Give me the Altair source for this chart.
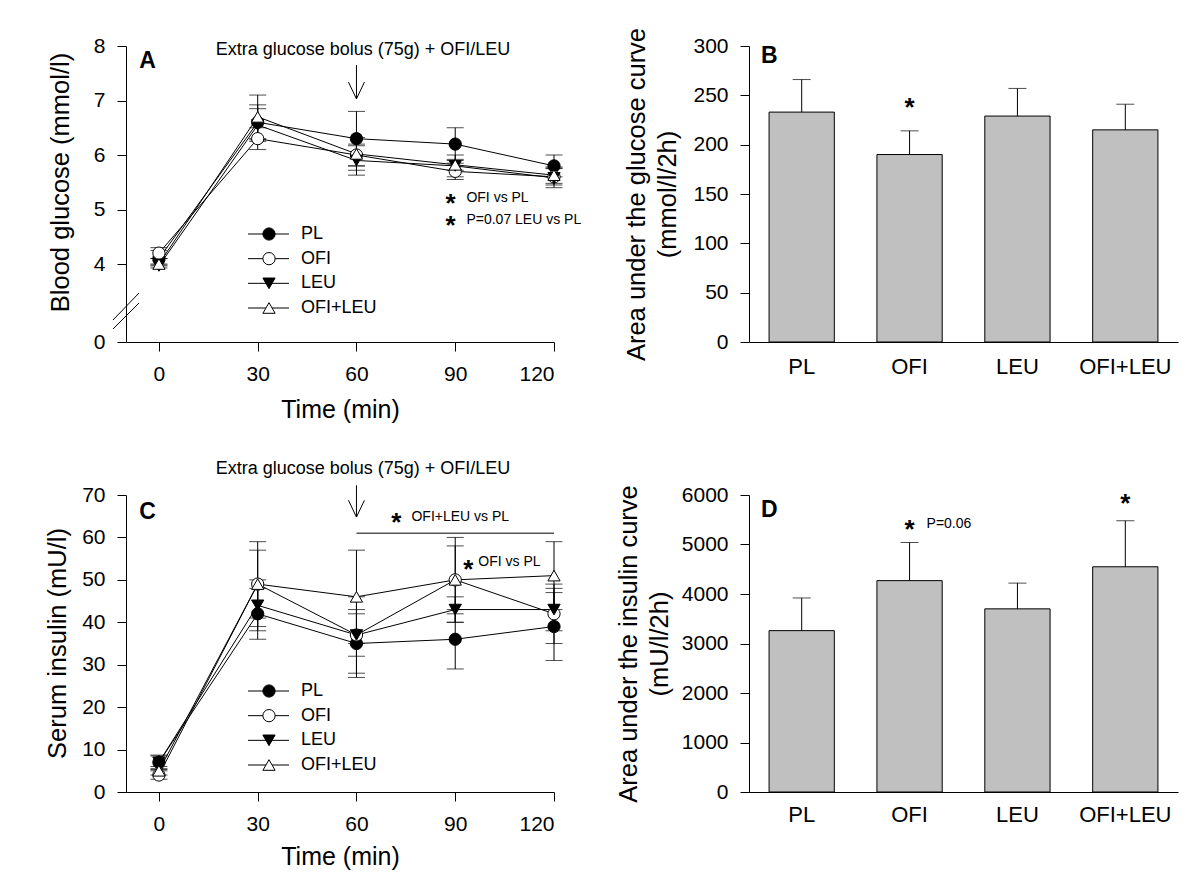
import altair as alt
import pandas as pd

FONT = "Liberation Sans"

times = [0, 30, 60, 90, 120]
series = ["PL", "OFI", "LEU", "OFI+LEU"]
shapes = ["circle", "circle", "triangle-down", "triangle-up"]
fills = ["black", "white", "black", "white"]

# Panel A: blood glucose (mmol/l), mean and error
glu_pl = [4.1, 6.6, 6.3, 6.2, 5.8]
glu_ofi = [4.2, 6.3, 6.0, 5.7, 5.6]
glu_leu = [3.9, 6.55, 5.9, 5.8, 5.58]
glu_ofileu = [4.0, 6.7, 6.02, 5.82, 5.63]
glu_pl_err = [0.15, 0.32, 0.5, 0.3, 0.2]
glu_ofi_err = [0.1, 0.2, 0.2, 0.15, 0.15]
glu_leu_err = [0.1, 0.3, 0.27, 0.2, 0.18]
glu_ofileu_err = [0.1, 0.4, 0.3, 0.1, 0.15]

# Panel C: serum insulin (mU/l)
ins_pl = [7, 42, 35, 36, 39]
ins_ofi = [4, 49, 37, 50, 42]
ins_leu = [7, 44, 37, 43, 43]
ins_ofileu = [5, 49, 46, 50, 51]
ins_pl_err = [1.7, 6, 8, 7, 8]
ins_ofi_err = [1, 10, 9, 10, 7]
ins_leu_err = [1.5, 6, 5, 3, 5]
ins_ofileu_err = [1, 8, 11, 8, 8]

# Panel B / D: area under the curve
auc_glu = [233, 190, 229, 215]
auc_glu_err = [33, 24, 28, 26]
auc_ins = [3260, 4270, 3700, 4550]
auc_ins_err = [660, 770, 520, 930]


def long_df(means, errs):
    rows = []
    for s, m, e in zip(series, means, errs):
        for t, v, d in zip(times, m, e):
            rows.append({"series": s, "time": t, "mean": v, "lo": v - d, "hi": v + d})
    return pd.DataFrame(rows)


glu_df = long_df([glu_pl, glu_ofi, glu_leu, glu_ofileu],
                 [glu_pl_err, glu_ofi_err, glu_leu_err, glu_ofileu_err])
ins_df = long_df([ins_pl, ins_ofi, ins_leu, ins_ofileu],
                 [ins_pl_err, ins_ofi_err, ins_leu_err, ins_ofileu_err])
leg_df = pd.DataFrame({"series": series})

shape_scale = alt.Scale(domain=series, range=shapes)
fill_scale = alt.Scale(domain=series, range=fills)
one = pd.DataFrame({"a": [0]})

ARROW = "M-1,-2.1L0,0L1,-2.1"


def txt(text, x, y, size=14, bold=False, align="left", dy=0, dx=0):
    return alt.Chart(one).mark_text(
        text=text, font=FONT, fontSize=size, fontWeight="bold" if bold else "normal",
        align=align, baseline="middle", color="black", dy=dy, dx=dx
    ).encode(x=x, y=y)


def star(x, y, dx=0):
    return txt("*", x, y, size=26, bold=True, align="center", dy=6, dx=dx)


def line_panel(df, yscale, yvalues, ytitle, titlex, titley, xtitle_y, height, extras, legend_range):
    xs = alt.Scale(domain=[-10, 120], nice=False, zero=False)
    x = alt.X("time:Q", scale=xs,
              axis=alt.Axis(values=times, title="Time (min)", labelPadding=12,
                            titleY=xtitle_y, titleBaseline="alphabetic", titleFontSize=25))
    y = alt.Y("mean:Q", scale=yscale,
              axis=alt.Axis(values=yvalues, title=ytitle, labelPadding=12, format="d",
                            titleX=titlex, titleY=titley, titleBaseline="alphabetic"))
    base = alt.Chart(df)
    lines = base.mark_line(color="black", strokeWidth=1).encode(x=x, y=y, detail="series:N")
    err = base.mark_rule(color="black", strokeWidth=1).encode(x="time:Q", y="lo:Q", y2="hi:Q")
    cap_lo = base.mark_tick(orient="horizontal", size=17, thickness=1, color="black").encode(
        x="time:Q", y="lo:Q")
    cap_hi = base.mark_tick(orient="horizontal", size=17, thickness=1, color="black").encode(
        x="time:Q", y="hi:Q")
    pts = base.mark_point(filled=True, size=150, stroke="black", strokeWidth=1, opacity=1).encode(
        x="time:Q", y="mean:Q",
        shape=alt.Shape("series:N", scale=shape_scale, legend=None),
        fill=alt.Fill("series:N", scale=fill_scale, legend=None))
    main = alt.layer(lines, err, cap_lo, cap_hi, pts, *extras)

    ly = alt.Y("series:N", scale=alt.Scale(type="point", domain=series, range=legend_range, padding=0),
               axis=None)
    lbase = alt.Chart(leg_df)
    lrule = lbase.mark_rule(color="black", strokeWidth=1).encode(
        y=ly, x=alt.value(122), x2=alt.value(163))
    lpt = lbase.mark_point(filled=True, size=150, stroke="black", strokeWidth=1, opacity=1).encode(
        y=ly, x=alt.value(143),
        shape=alt.Shape("series:N", scale=shape_scale, legend=None),
        fill=alt.Fill("series:N", scale=fill_scale, legend=None))
    ltxt = lbase.mark_text(font=FONT, fontSize=18, align="left", baseline="middle", color="black").encode(
        y=ly, x=alt.value(175), text="series:N")
    legend = alt.layer(lrule, lpt, ltxt)
    return alt.layer(main, legend).resolve_scale(y="independent").properties(width=428, height=height)


# ---- Panel A
a_extras = [
    txt("A", alt.datum(-6), alt.datum(7.72), size=23, bold=True),
    txt("Extra glucose bolus (75g) + OFI/LEU", alt.datum(62), alt.datum(7.93), size=18, align="center"),
    alt.Chart(one).mark_rule(color="black", strokeWidth=1).encode(
        x=alt.datum(60), y=alt.datum(7.65), y2=alt.datum(7.03)),
    alt.Chart(one).mark_point(shape=ARROW, filled=False, size=256, stroke="black", strokeWidth=1,
                              opacity=1).encode(x=alt.datum(60), y=alt.datum(7.03)),
    star(alt.datum(88.6), alt.datum(5.21)),
    txt("OFI vs PL", alt.datum(93.4), alt.datum(5.21), size=14),
    star(alt.datum(88.6), alt.datum(4.81)),
    txt("P=0.07 LEU vs PL", alt.datum(93.4), alt.datum(4.81), size=14),
    alt.Chart(one).mark_rule(color="black", strokeWidth=1).encode(
        x=alt.value(-13), x2=alt.value(13), y=alt.value(274), y2=alt.value(247)),
    alt.Chart(one).mark_rule(color="black", strokeWidth=1).encode(
        x=alt.value(-13), x2=alt.value(13), y=alt.value(283), y2=alt.value(257)),
]
panel_a = line_panel(
    glu_df,
    alt.Scale(domain=[0, 4, 8], range=[296, 218, 0], nice=False, zero=False),
    [0, 4, 5, 6, 7, 8], "Blood glucose (mmol/l)", -58, 136, 75, 296, a_extras, [188, 262])

# ---- Panel C
c_extras = [
    txt("C", alt.datum(-6), alt.datum(66), size=23, bold=True),
    txt("Extra glucose bolus (75g) + OFI/LEU", alt.datum(62), alt.datum(76.1), size=18, align="center"),
    alt.Chart(one).mark_rule(color="black", strokeWidth=1).encode(
        x=alt.datum(60), y=alt.datum(72.3), y2=alt.datum(64.8)),
    alt.Chart(one).mark_point(shape=ARROW, filled=False, size=256, stroke="black", strokeWidth=1,
                              opacity=1).encode(x=alt.datum(60), y=alt.datum(64.8)),
    star(alt.datum(72.1), alt.datum(64.8)),
    txt("OFI+LEU vs PL", alt.datum(76.7), alt.datum(64.8), size=14),
    alt.Chart(one).mark_rule(color="black", strokeWidth=1).encode(
        x=alt.datum(60), x2=alt.datum(120), y=alt.datum(61)),
    star(alt.datum(94), alt.datum(53.7)),
    txt("OFI vs PL", alt.datum(97), alt.datum(54.2), size=14),
]
panel_c = line_panel(
    ins_df,
    alt.Scale(domain=[0, 70], nice=False, zero=True),
    [0, 10, 20, 30, 40, 50, 60, 70], "Serum insulin (mU/l)", -61, 148, 72, 297, c_extras, [196, 270])


def bar_panel(values, errs, ymax, ystep, title, titlex, height, lpad, extras):
    df = pd.DataFrame({"group": series, "value": values, "hi": [v + e for v, e in zip(values, errs)]})
    xs = alt.Scale(domain=series, paddingInner=0.395, paddingOuter=0.186)
    x = alt.X("group:N", scale=xs, sort=series,
              axis=alt.Axis(title=None, ticks=False, labelPadding=lpad, labelAngle=0, labelFontSize=22))
    y = alt.Y("value:Q", scale=alt.Scale(domain=[0, ymax], nice=False),
              axis=alt.Axis(values=list(range(0, ymax + 1, ystep)), title=title, labelPadding=12,
                            format="d", titleX=titlex, titleBaseline="alphabetic", titleLineHeight=31))
    base = alt.Chart(df)
    bars = base.mark_bar(color="#c0c0c0", stroke="black", strokeWidth=1).encode(x=x, y=y)
    err = base.mark_rule(color="black", strokeWidth=1).encode(x="group:N", y="value:Q", y2="hi:Q")
    cap = base.mark_tick(orient="horizontal", size=18, thickness=1, color="black").encode(
        x="group:N", y="hi:Q")
    return alt.layer(bars, err, cap, *extras).properties(width=429, height=height)


panel_b = bar_panel(
    auc_glu, auc_glu_err, 300, 50, ["Area under the glucose curve", "(mmol/l/2h)"], -105, 296, 14,
    [txt("B", alt.value(12), alt.datum(290), size=23, bold=True),
     star(alt.datum("OFI"), alt.datum(243))])

panel_d = bar_panel(
    auc_ins, auc_ins_err, 6000, 1000, ["Area under the insulin curve", "(mU/l/2h)"], -113, 297, 12,
    [txt("D", alt.value(12), alt.datum(5700), size=23, bold=True),
     star(alt.datum("OFI"), alt.datum(5414)),
     txt("P=0.06", alt.datum("OFI"), alt.datum(5414), size=14, dx=17),
     star(alt.datum("OFI+LEU"), alt.datum(5940))])

chart = alt.concat(
    panel_a, panel_b, panel_c, panel_d, columns=2,
    spacing={"row": 153, "column": 195}, bounds="flush"
).properties(
    padding={"left": 36, "top": 19, "right": 5, "bottom": 5}
).configure_view(stroke=None).configure_axis(
    labelFont=FONT, labelFontSize=21, labelColor="black",
    titleFont=FONT, titleFontSize=25.5, titleFontWeight="normal", titleColor="black",
    domainColor="black", tickColor="black", tickSize=9, grid=False, domainWidth=1, tickWidth=1
).configure_text(font=FONT)

chart.save("out.html", embed_options={"renderer": "svg", "actions": False})
